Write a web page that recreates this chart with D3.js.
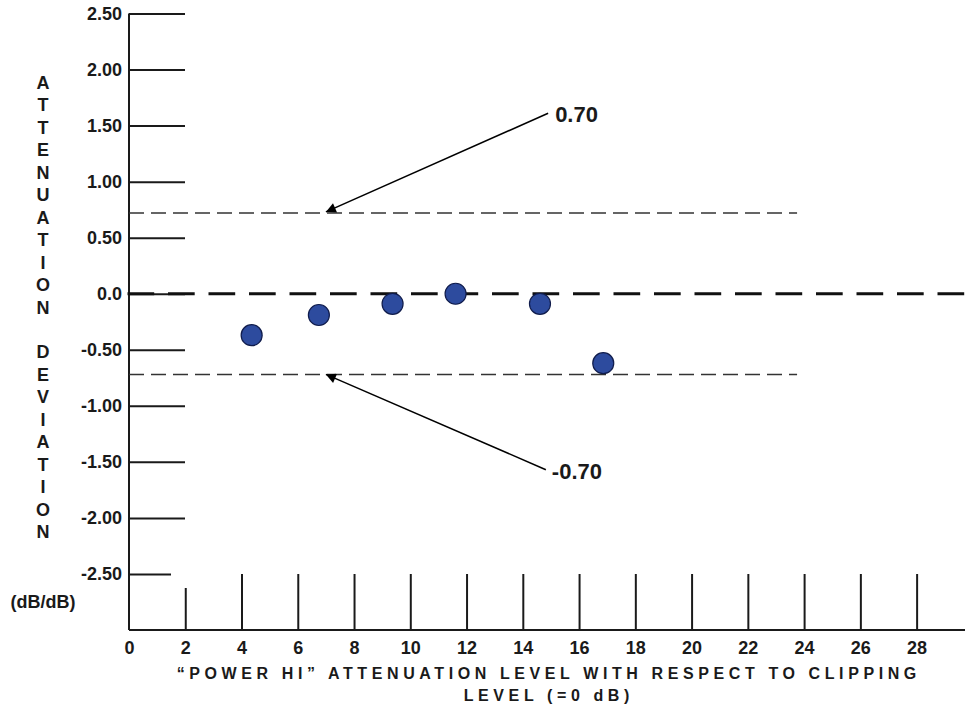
<!DOCTYPE html>
<html>
<head>
<meta charset="utf-8">
<script src="https://cdn.jsdelivr.net/npm/d3@7/dist/d3.min.js"></script>
<style>
  html, body { margin: 0; padding: 0; background: #fff; }
  svg { display: block; font-family: "Liberation Sans", Arial, Helvetica, sans-serif; font-weight: bold; }
</style>
</head>
<body>
<svg id="chart" width="965" height="708"></svg>
<script>
// ---- data ----
const xTickValues = [0, 2, 4, 6, 8, 10, 12, 14, 16, 18, 20, 22, 24, 26, 28];
const xTickLabels = ["0", "2", "4", "6", "8", "10", "12", "14", "16", "18", "20", "22", "24", "26", "28"];
const yTickValues = [2.5, 2.0, 1.5, 1.0, 0.5, 0.0, -0.5, -1.0, -1.5, -2.0, -2.5];
const yTickLabels = ["2.50", "2.00", "1.50", "1.00", "0.50", "0.0", "-0.50", "-1.00", "-1.50", "-2.00", "-2.50"];

const attenLevel = [4.36, 6.75, 9.37, 11.61, 14.61, 16.86];
const deviation  = [-0.37, -0.19, -0.09, 0.00, -0.09, -0.62];

const limitValues = [0.72, -0.72];
const limitLabels = ["0.70", "-0.70"];
const limitEndX = 23.75;
const arrowTipX = [7.0, 7.0];
const arrowTipY = [0.73, -0.72];
const arrowTailX = [14.9, 14.82];
const arrowTailY = [1.61, -1.57];

const yTitle = "ATTENUATION DEVIATION";
const yUnit = "(dB/dB)";
const xTitle1 = "\u201CPOWER HI\u201D ATTENUATION LEVEL WITH RESPECT TO CLIPPING";
const xTitle2 = "LEVEL (=0 dB)";

// ---- layout ----
const svg = d3.select("#chart");
const x = d3.scaleLinear().domain([0, 29.72]).range([129, 965]);
const y = d3.scaleLinear().domain([-3, 2.5]).range([630, 13.5]);
const ink = "#1a1a1a";

// defs: arrowhead
svg.append("defs").append("marker")
  .attr("id", "arrow").attr("viewBox", "0 0 10 10")
  .attr("refX", 10).attr("refY", 5)
  .attr("markerWidth", 15).attr("markerHeight", 10)
  .attr("markerUnits", "userSpaceOnUse")
  .attr("orient", "auto")
  .append("path").attr("d", "M0,0 L10,5 L0,10 Z").attr("fill", "#000");

// y axis
const yAxis = d3.axisLeft(y)
  .tickValues(yTickValues)
  .tickFormat((d, i) => yTickLabels[i])
  .tickSize(-56).tickSizeOuter(0).tickPadding(7);
const gy = svg.append("g").attr("transform", `translate(${x(0)},0)`).call(yAxis);
gy.select(".domain").attr("stroke", ink).attr("stroke-width", 2)
  .attr("d", `M0,${y(2.5)}V${y(-3)}`);
gy.selectAll(".tick line").attr("stroke", ink).attr("stroke-width", 2)
  .attr("x2", d => d === -2.5 ? 42 : 56);
gy.selectAll(".tick text").attr("font-size", 18).attr("fill", ink)
  .attr("font-family", "'Liberation Sans', Arial, sans-serif").attr("font-weight", "bold");

// x axis
const xAxis = d3.axisBottom(x)
  .tickValues(xTickValues)
  .tickFormat((d, i) => xTickLabels[i])
  .tickSize(-56).tickSizeOuter(0).tickPadding(11);
const gx = svg.append("g").attr("transform", `translate(0,${y(-3)})`).call(xAxis);
gx.select(".domain").attr("stroke", ink).attr("stroke-width", 2)
  .attr("d", `M${x(0)},0H965`);
gx.selectAll(".tick line").attr("stroke", ink).attr("stroke-width", 2)
  .attr("y2", d => d === 0 ? 0 : (d === 2 ? -42 : -56));
gx.selectAll(".tick text").attr("font-size", 18).attr("fill", ink)
  .attr("font-family", "'Liberation Sans', Arial, sans-serif").attr("font-weight", "bold");

// limit lines
svg.selectAll(".limit").data(limitValues).enter().append("line")
  .attr("class", "limit")
  .attr("x1", x(0)).attr("x2", x(limitEndX))
  .attr("y1", d => y(d)).attr("y2", d => y(d))
  .attr("stroke", "#333").attr("stroke-width", 1.6)
  .attr("stroke-dasharray", "15,7");

// zero line
svg.append("line")
  .attr("x1", x(0) - 1.5).attr("x2", 965)
  .attr("y1", y(0)).attr("y2", y(0))
  .attr("stroke", "#111").attr("stroke-width", 3.2)
  .attr("stroke-dasharray", "26.7,13.8");

// points
svg.selectAll(".pt").data(attenLevel).enter().append("circle")
  .attr("class", "pt")
  .attr("cx", d => x(d))
  .attr("cy", (d, i) => y(deviation[i]))
  .attr("r", 10.5)
  .attr("fill", "#2d4b9e").attr("stroke", "#101c4c").attr("stroke-width", 1.2);

// arrows
svg.selectAll(".arr").data(limitValues).enter().append("line")
  .attr("class", "arr")
  .attr("x1", (d, i) => x(arrowTailX[i])).attr("y1", (d, i) => y(arrowTailY[i]))
  .attr("x2", (d, i) => x(arrowTipX[i])).attr("y2", (d, i) => y(arrowTipY[i]))
  .attr("stroke", "#000").attr("stroke-width", 1.5)
  .attr("marker-end", "url(#arrow)");

svg.selectAll(".lim-label").data(limitLabels).enter().append("text")
  .attr("class", "lim-label")
  .attr("x", (d, i) => x(arrowTailX[i]) + (i === 0 ? 7 : 6))
  .attr("y", (d, i) => y(arrowTailY[i]) + (i === 0 ? 1 : 2))
  .attr("dominant-baseline", "central")
  .attr("font-size", 22).attr("fill", ink)
  .text(d => d);

// y title: stacked letters
const letters = yTitle.split("");
svg.selectAll(".ylet").data(letters).enter().append("text")
  .attr("class", "ylet")
  .attr("x", 43)
  .attr("y", (d, i) => 83 + i * 22.45)
  .attr("text-anchor", "middle").attr("dominant-baseline", "central")
  .attr("font-size", 18).attr("fill", ink)
  .text(d => d);

svg.append("text")
  .attr("x", 43).attr("y", 602)
  .attr("text-anchor", "middle").attr("dominant-baseline", "central")
  .attr("font-size", 18).attr("fill", ink)
  .text(yUnit);

// x title
const ls = 4.6;
[xTitle1, xTitle2].forEach((t, i) => {
  svg.append("text")
    .attr("x", 546.5 + ls / 2).attr("y", 673 + i * 22)
    .attr("text-anchor", "middle").attr("dominant-baseline", "central")
    .attr("font-size", 16).attr("letter-spacing", ls).attr("fill", ink)
    .text(t);
});
</script>
</body>
</html>
